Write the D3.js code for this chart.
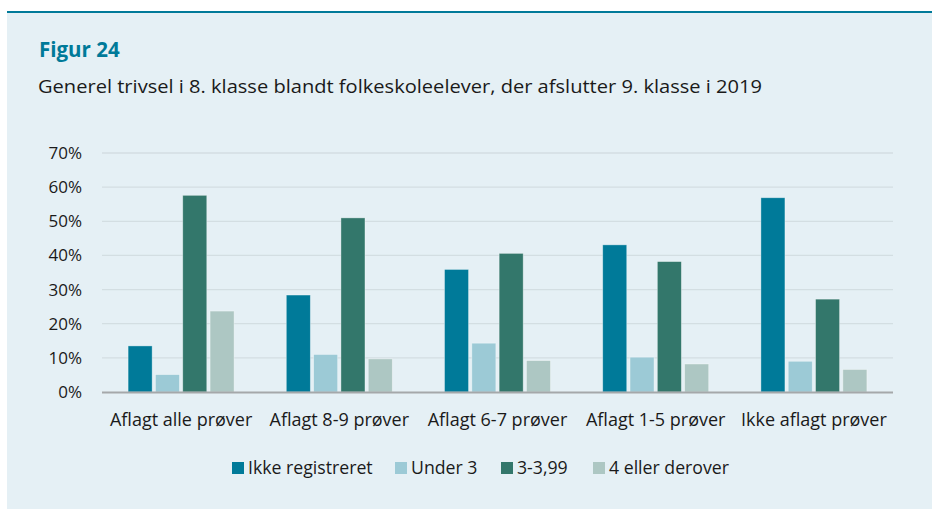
<!DOCTYPE html>
<html><head><meta charset="utf-8">
<script src="https://cdn.jsdelivr.net/npm/d3@7"></script>
<style>
html,body{margin:0;padding:0;background:#fff;}
svg{display:block;font-family:"Open Sans",sans-serif;}
</style></head>
<body>
<svg id="c" width="932" height="509"></svg>
<script>
const categories = ["Aflagt alle prøver","Aflagt 8-9 prøver","Aflagt 6-7 prøver","Aflagt 1-5 prøver","Ikke aflagt prøver"];
const seriesNames = ["Ikke registreret","Under 3","3-3,99","4 eller derover"];
const ikkeRegistreret = [13.5, 28.4, 35.9, 43.1, 56.9];
const under3 = [5.1, 11.0, 14.3, 10.2, 9.0];
const mellem3og4 = [57.6, 51.0, 40.6, 38.2, 27.2];
const fireEllerOver = [23.7, 9.7, 9.2, 8.2, 6.6];
const yTicks = [0,10,20,30,40,50,60,70];
const colors = ["#007A99","#9CCAD6","#33776B","#ADC7C3"];

(function(){
const seriesValues = [ikkeRegistreret, under3, mellem3og4, fireEllerOver];

const svg = d3.select("#c");
svg.append("rect").attr("x",7).attr("y",12).attr("width",925).attr("height",497).attr("fill","#E5F0F5");
svg.append("rect").attr("x",7).attr("y",11).attr("width",925).attr("height",2).attr("fill","#007A99");

svg.append("text").attr("x",39).attr("y",56.5).attr("fill","#007A99")
  .style("font-size","20.5px").style("font-weight","700").text("Figur 24");
svg.append("text").attr("x",38).attr("y",92.5).attr("fill","#1a1a1a")
  .attr("textLength",724).attr("lengthAdjust","spacingAndGlyphs")
  .style("font-size","19px").text("Generel trivsel i 8. klasse blandt folkeskoleelever, der afslutter 9. klasse i 2019");

const pl=102, pr=893, pt=153, pb=392;
const x = d3.scaleBand().domain(categories).range([pl,pr]).paddingInner(0.33).paddingOuter(0.165);
const xs = d3.scaleBand().domain(seriesNames).range([0,x.bandwidth()]).paddingInner(0.12);
const y = d3.scaleLinear().domain([0,70]).range([pb,pt]);

svg.append("g").selectAll("line").data(yTicks.filter(d=>d>0)).join("line")
  .attr("x1",pl).attr("x2",pr).attr("y1",d=>y(d)).attr("y2",d=>y(d))
  .attr("stroke","#D3DEE2").attr("stroke-width",1.3);

const yAxis = svg.append("g").attr("transform",`translate(${pl},0)`)
  .call(d3.axisLeft(y).tickValues(yTicks).tickFormat(d=>d+"%").tickSize(0).tickPadding(20));
yAxis.select(".domain").remove();
yAxis.selectAll("text").attr("fill","#1a1a1a").style("font-size","17px").style("font-family","Open Sans");

const g = svg.append("g");
categories.forEach((c,i)=>{
  seriesNames.forEach((s,j)=>{
    const v = seriesValues[j][i];
    g.append("rect").attr("x",x(c)+xs(s)).attr("y",y(v)).attr("width",xs.bandwidth())
      .attr("height",y(0)-y(v)).attr("fill",colors[j])
      .attr("stroke","rgba(255,255,255,0.45)").attr("stroke-width",0.8);
  });
});

svg.append("line").attr("x1",pl).attr("x2",pr).attr("y1",pb+0.5).attr("y2",pb+0.5)
  .attr("stroke","#A5A8AA").attr("stroke-width",2);

const xAxis = svg.append("g").attr("transform",`translate(0,${pb})`)
  .call(d3.axisBottom(x).tickSize(0).tickPadding(21));
xAxis.select(".domain").remove();
xAxis.selectAll("text").attr("fill","#1a1a1a").style("font-size","18px").style("font-family","Open Sans");

const legX = [232, 395, 501, 593];
const leg = svg.append("g");
seriesNames.forEach((s,j)=>{
  leg.append("rect").attr("x",legX[j]).attr("y",462).attr("width",12).attr("height",12).attr("fill",colors[j]);
  leg.append("text").attr("x",legX[j]+16).attr("y",474).attr("fill","#1a1a1a").style("font-size","17.7px").text(s);
});
})();
</script>
</body></html>
